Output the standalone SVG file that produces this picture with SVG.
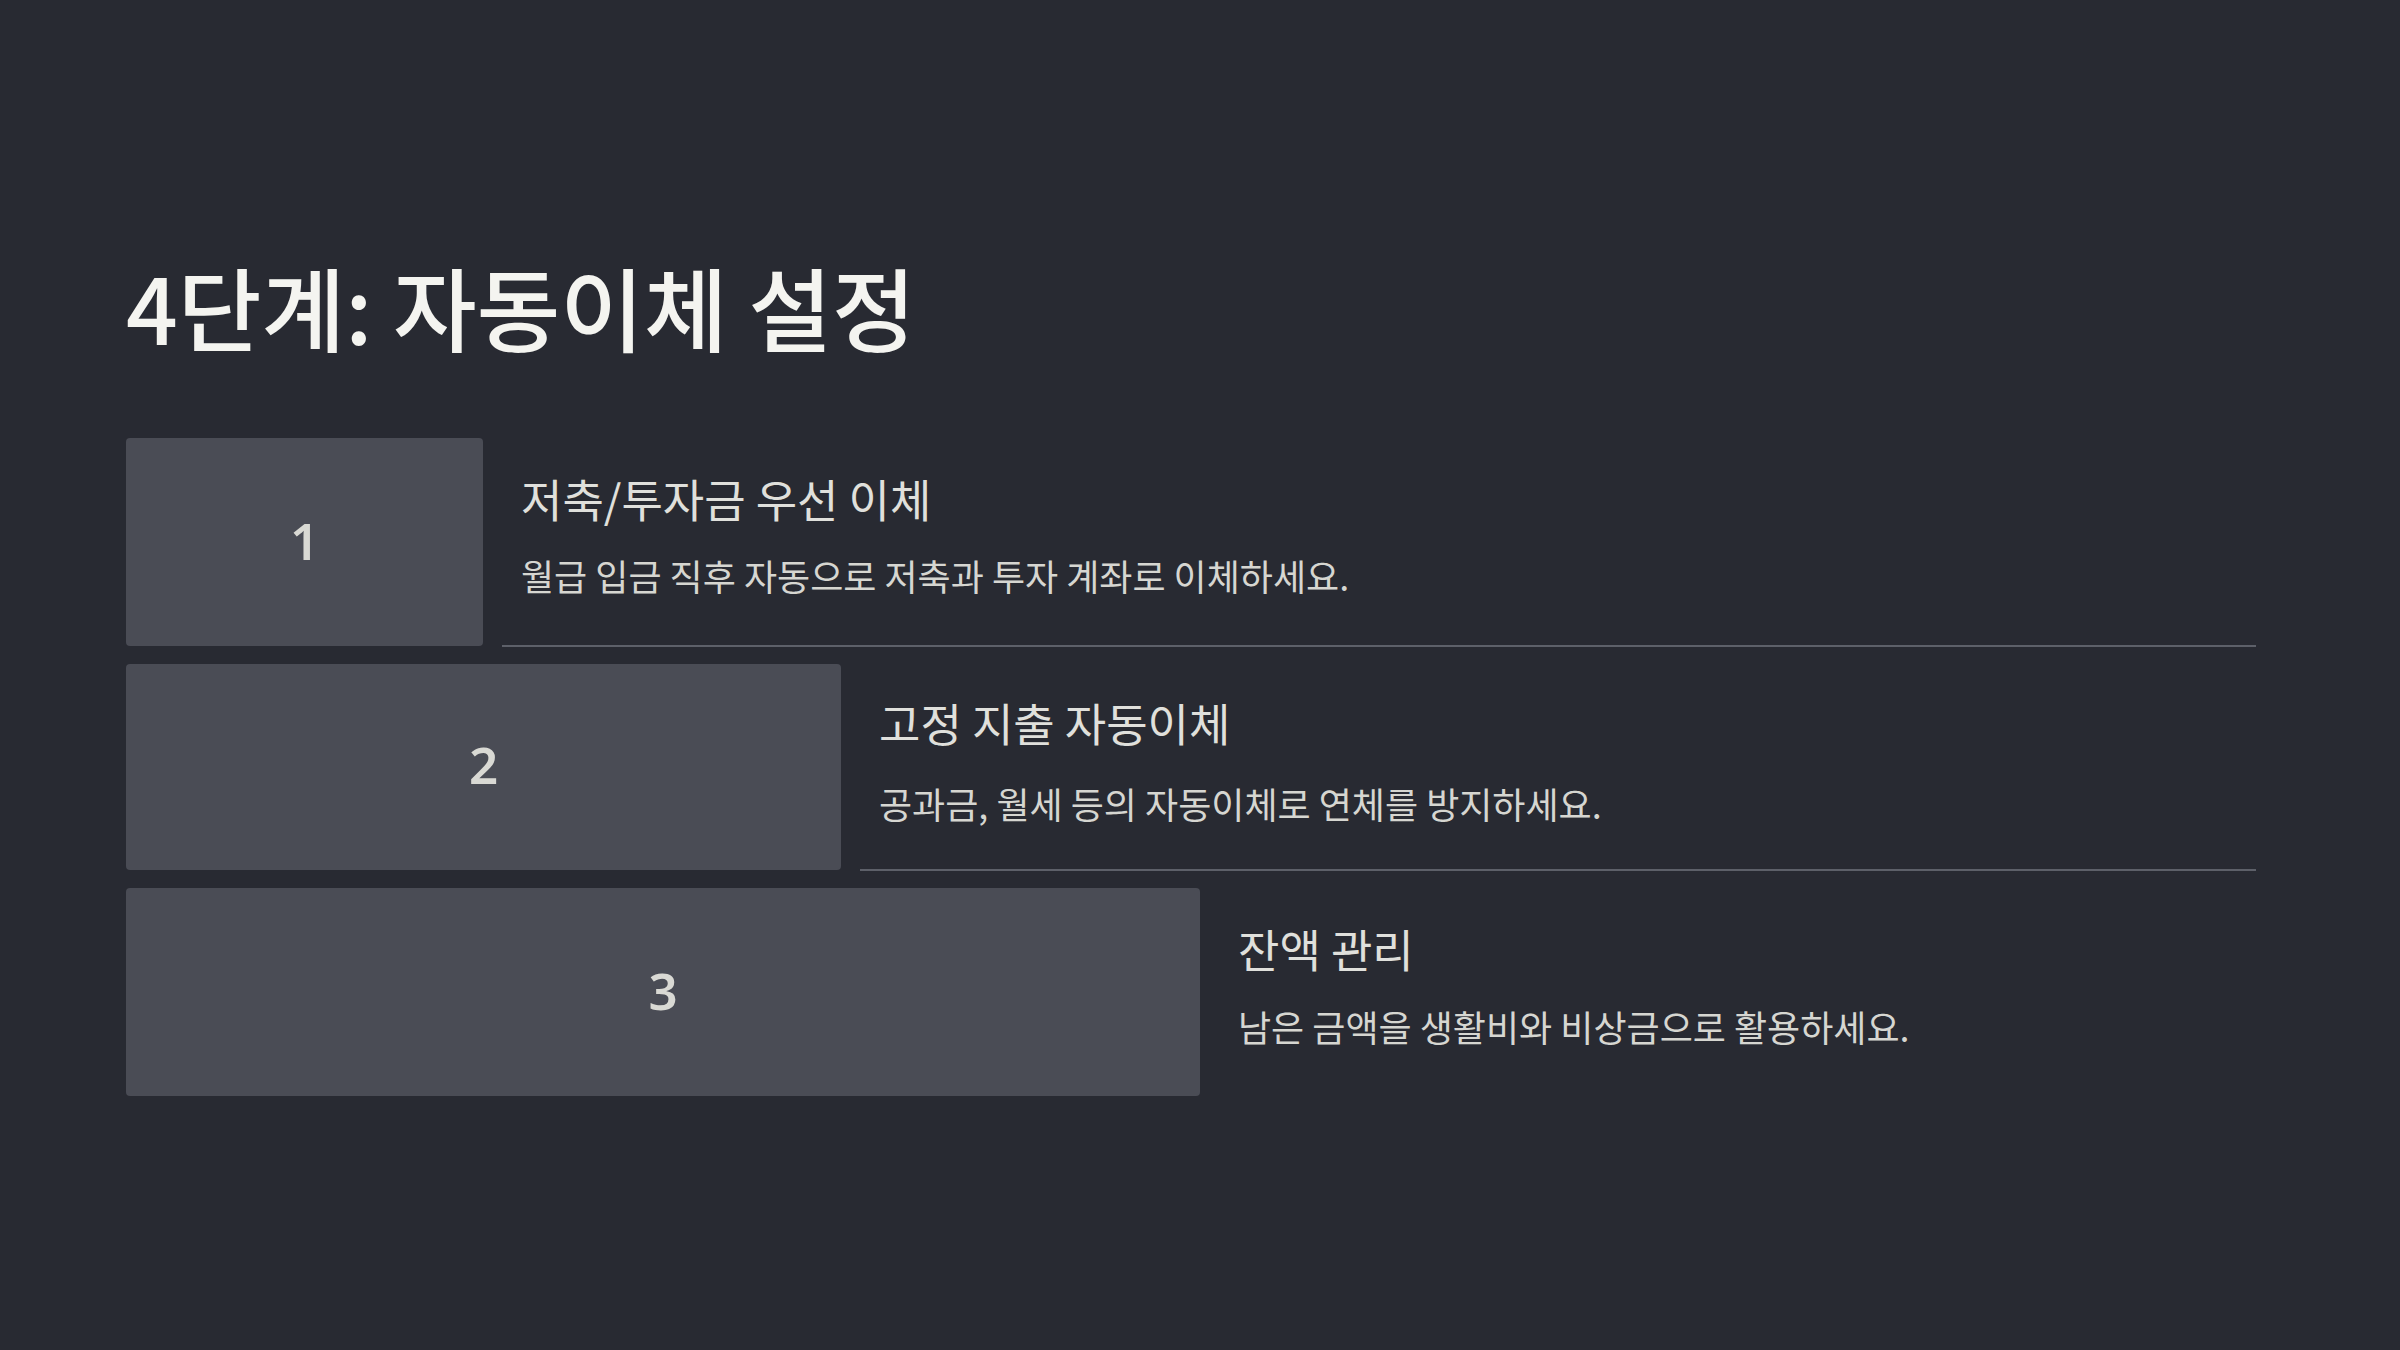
<svg xmlns="http://www.w3.org/2000/svg" width="2400" height="1350" viewBox="0 0 2400 1350">
<style>
.t{font-family:"Noto Sans CJK KR","Noto Sans",sans-serif;}
.title{font-size:91px;fill:#f4f4f0;font-weight:500;}
.box{fill:#4a4c55;}
.num{font-family:"Noto Sans","Noto Sans CJK KR",sans-serif;font-size:51px;fill:#d9d9d4;text-anchor:middle;font-weight:600;}
.head{font-size:45px;fill:#e0e0dc;}
.desc{font-size:36px;fill:#d6d6d1;}
.sep{stroke:#5d6069;stroke-width:2;fill:none;}
</style>
<rect width="2400" height="1350" fill="#282a32"/>
<g id="title"><text class="t title" x="126" y="345">4단계: 자동이체 설정</text></g>
<g id="step1">
<rect class="box" x="126" y="438" width="357" height="208" rx="4"/>
<text class="num" x="304.5" y="560">1</text>
<text class="t head" x="521" y="518">저축/투자금 우선 이체</text>
<text class="t desc" x="521" y="591">월급 입금 직후 자동으로 저축과 투자 계좌로 이체하세요.</text>
</g>
<g id="step2">
<rect class="box" x="126" y="664" width="715" height="206" rx="4"/>
<text class="num" x="483.5" y="784">2</text>
<text class="t head" x="879" y="742">고정 지출 자동이체</text>
<text class="t desc" x="879" y="819">공과금, 월세 등의 자동이체로 연체를 방지하세요.</text>
</g>
<g id="step3">
<rect class="box" x="126" y="888" width="1074" height="208" rx="4"/>
<text class="num" x="663" y="1010">3</text>
<text class="t head" x="1238" y="968">잔액 관리</text>
<text class="t desc" x="1238" y="1042">남은 금액을 생활비와 비상금으로 활용하세요.</text>
</g>
<g id="connectors">
<line class="sep" x1="502" y1="646" x2="2256" y2="646"/>
<line class="sep" x1="860" y1="870" x2="2256" y2="870"/>
</g>
</svg>
